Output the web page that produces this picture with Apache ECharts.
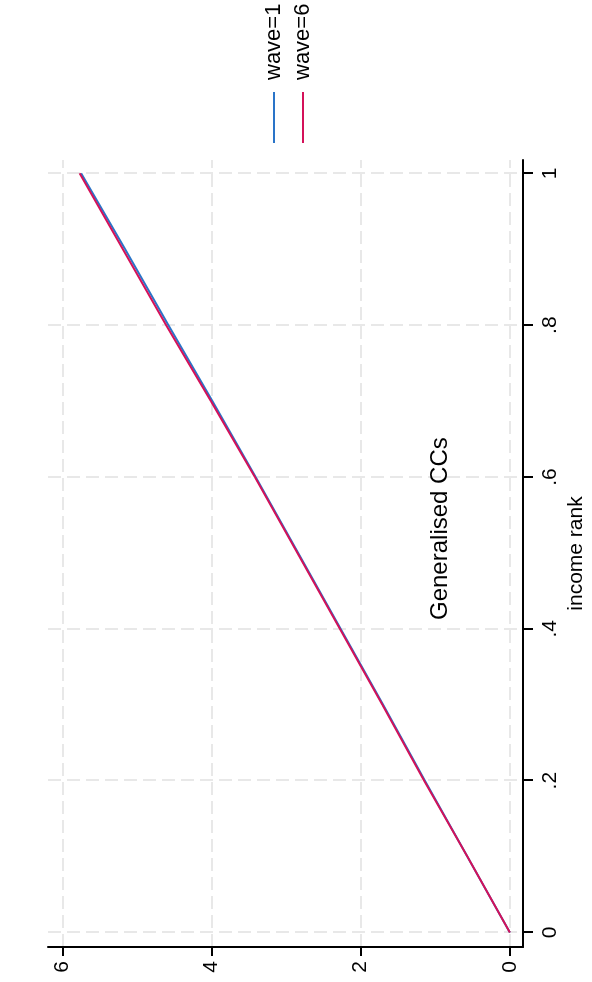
<!DOCTYPE html>
<html>
<head>
<meta charset="utf-8">
<script src="https://cdn.jsdelivr.net/npm/echarts@6/dist/echarts.min.js"></script>
<style>
  html, body { margin: 0; padding: 0; background: #ffffff; overflow: hidden; }
  #wrap { position: absolute; left: 0; top: 0; width: 592px; height: 982px; background: #fff; }
  /* the chart is drawn in landscape and turned a quarter turn, as in the reference */
  #chart { position: absolute; left: 0; top: 0; width: 982px; height: 592px;
           transform-origin: 0 0; transform: translateY(982px) rotate(-90deg); }
</style>
</head>
<body>
<div id="wrap"><div id="chart"></div></div>
<script>
// ---- data ----
const titleText = "Generalised CCs";
const xAxisTitle = "income rank";
const seriesNames = ["wave=1", "wave=6"];
const incomeRank = [0, 0.1, 0.2, 0.3, 0.4, 0.5, 0.6, 0.7, 0.8, 0.9, 1];
const wave1 = [0, 0.57, 1.14, 1.70, 2.27, 2.84, 3.41, 3.99, 4.58, 5.16, 5.75];
const wave6 = [0, 0.57, 1.15, 1.71, 2.28, 2.85, 3.42, 4.01, 4.61, 5.19, 5.77];
const rankTicks = [0, 0.2, 0.4, 0.6, 0.8, 1];
const valueTicks = [0, 2, 4, 6];

const colors = ["#2a74c8", "#d41159"];
const font = "Liberation Sans, Arial, Helvetica, sans-serif";

function pairs(xs, ys) { return xs.map((x, i) => [x, ys[i]]); }
function fmtRank(v) {
  if (Math.abs(v) < 1e-9) return "0";
  if (Math.abs(v - 1) < 1e-9) return "1";
  return Number(v).toFixed(1).replace(/^0\./, ".");
}

const gridLine = { show: true, lineStyle: { color: "#e8e8e8", width: 2, type: [13, 6] } };

const chart = echarts.init(document.getElementById("chart"), null, { renderer: "canvas" });
chart.setOption({
  animation: false,
  backgroundColor: "#ffffff",
  color: colors,
  textStyle: { fontFamily: font },
  title: {
    text: titleText,
    left: 362, top: 428, padding: 0,
    textStyle: { fontFamily: font, fontSize: 24, fontWeight: "normal", color: "#000" }
  },
  legend: {
    orient: "vertical",
    left: 839, top: 263, padding: 0,
    itemWidth: 51, itemHeight: 2, itemGap: 7,
    icon: "rect",
    data: seriesNames,
    textStyle: { fontFamily: font, fontSize: 22, color: "#000", padding: [0, 0, 0, 7] }
  },
  grid: { left: 35, right: 160, top: 48, bottom: 65, containLabel: false },
  xAxis: {
    type: "value",
    min: -0.0191, max: 1.0175,
    name: xAxisTitle, nameLocation: "middle", nameGap: 43,
    nameTextStyle: { fontFamily: font, fontSize: 21, color: "#000" },
    axisLine: { show: true, onZero: false, lineStyle: { color: "#000", width: 2 } },
    axisTick: { show: true, length: 10, lineStyle: { color: "#000", width: 2 }, customValues: rankTicks },
    axisLabel: { customValues: rankTicks, formatter: fmtRank, margin: 17,
                 fontFamily: font, fontSize: 21, color: "#000" },
    splitLine: gridLine
  },
  yAxis: {
    type: "value",
    min: -0.177, max: 6.193,
    axisLine: { show: true, onZero: false, lineStyle: { color: "#000", width: 2 } },
    axisTick: { show: true, length: 9, lineStyle: { color: "#000", width: 2 }, customValues: valueTicks },
    axisLabel: { customValues: valueTicks, margin: 14, fontFamily: font, fontSize: 21, color: "#000" },
    splitLine: gridLine
  },
  series: [
    { name: seriesNames[0], type: "line", data: pairs(incomeRank, wave1), showSymbol: false,
      lineStyle: { width: 2, color: colors[0] }, itemStyle: { color: colors[0] } },
    { name: seriesNames[1], type: "line", data: pairs(incomeRank, wave6), showSymbol: false,
      lineStyle: { width: 2, color: colors[1] }, itemStyle: { color: colors[1] } }
  ]
});
</script>
</body>
</html>
